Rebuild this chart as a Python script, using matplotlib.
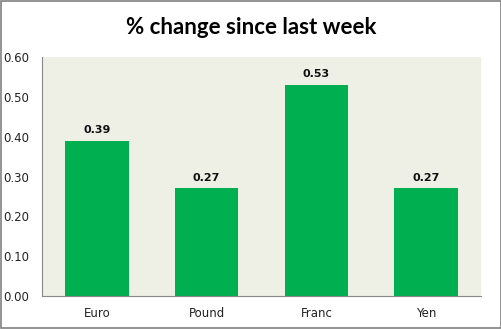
import matplotlib
matplotlib.use("Agg")
import matplotlib.pyplot as plt
from matplotlib.patches import Rectangle

categories = ["Euro", "Pound", "Franc", "Yen"]
values = [0.39, 0.27, 0.53, 0.27]
yticks = [0.0, 0.1, 0.2, 0.3, 0.4, 0.5, 0.6]

bar_color = "#00B050"
plot_bg = "#EEF0E6"

fig = plt.figure(figsize=(5.02, 3.29), dpi=100)
fig.patch.set_facecolor("white")
fig.patches.append(Rectangle((0.001, 0.002), 0.997, 0.996, transform=fig.transFigure,
                             fill=False, edgecolor="#808080", linewidth=1.2))

ax = fig.add_axes([0.0837, 0.1003, 0.8745, 0.7264])
ax.set_facecolor(plot_bg)

x = range(len(categories))
bars = ax.bar(x, values, width=0.58, color=bar_color, zorder=2)
for xi, v in zip(x, values):
    ax.annotate(f"{v:.2f}", (xi, v), xytext=(0, 4), textcoords="offset points",
                ha="center", va="bottom", fontsize=8, fontweight="bold",
                family="DejaVu Sans", color="#111111")

ax.set_xlim(-0.5, len(categories) - 0.5)
ax.set_ylim(0, 0.6)
ax.set_yticks(yticks)
ax.set_yticklabels([f"{t:.2f}" for t in yticks], fontsize=8.5, color="#222222")
ax.set_xticks(list(x))
ax.set_xticklabels(categories, fontsize=8.5, color="#222222")
ax.tick_params(axis="y", length=0, pad=9)
ax.tick_params(axis="x", length=0, pad=8)

for side in ("top", "right"):
    ax.spines[side].set_visible(False)
for side in ("left", "bottom"):
    ax.spines[side].set_color("#888888")
    ax.spines[side].set_linewidth(0.8)

fig.text(0.5, 0.915, "% change since last week", ha="center", va="center",
         fontsize=16, fontweight="bold", family="Lato", color="#000000")

fig.savefig("out.png", dpi=100)
